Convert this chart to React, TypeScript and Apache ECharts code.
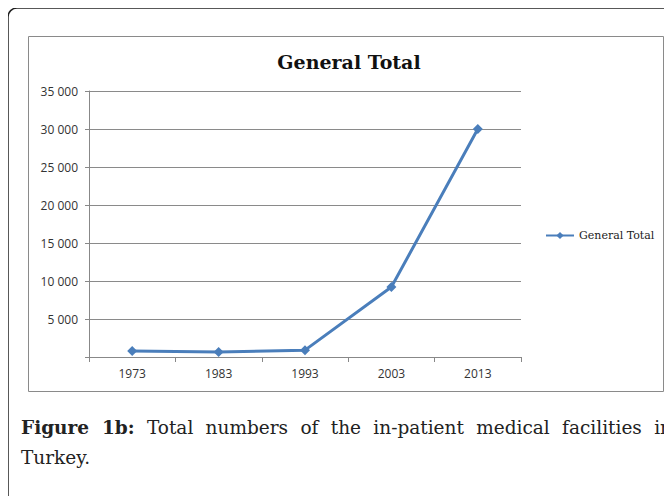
import React, { useEffect, useRef } from "react";
import * as echarts from "echarts";

const years = ["1973", "1983", "1993", "2003", "2013"];
const totals = [800, 650, 900, 9200, 30000];
const yTicks = [0, 5000, 10000, 15000, 20000, 25000, 30000, 35000];
const chartTitle = "General Total";
const seriesName = "General Total";

export default function App() {
  const ref = useRef<HTMLDivElement>(null);
  useEffect(() => {
    if (!ref.current) return;
    const chart = echarts.init(ref.current, undefined, { renderer: "svg" });
    chart.setOption({
      animation: false,
      backgroundColor: "#fff",
      title: {
        text: chartTitle,
        left: 344,
        textAlign: "center",
        top: 47,
        textStyle: { fontFamily: "DejaVu Serif", fontWeight: "bold", fontSize: 19, color: "#111" },
      },
      legend: {
        left: 540,
        top: 225,
        itemWidth: 28,
        itemHeight: 9,
        itemGap: 2,
        textStyle: { fontFamily: "DejaVu Serif", fontSize: 11, color: "#222" },
        data: [seriesName],
      },
      graphic: [
        {
          type: "rect",
          shape: { x: 8, y: 8, width: 700, height: 520, r: 9 },
          style: { fill: "none", stroke: "#222", lineWidth: 1.5 },
          silent: true,
        },
        {
          type: "rect",
          shape: { x: 28.5, y: 36.5, width: 635, height: 355 },
          style: { fill: "none", stroke: "#8a8a8a", lineWidth: 1 },
          silent: true,
        },
      ],
      grid: { left: 89, right: 151, top: 91, bottom: 147 },
      xAxis: {
        type: "category",
        data: years,
        boundaryGap: true,
        axisLine: { lineStyle: { color: "#888" } },
        axisTick: { show: true, length: 5, interval: 0, lineStyle: { color: "#888" } },
        axisLabel: { fontFamily: "Open Sans", fontSize: 12, color: "#333", margin: 10 },
      },
      yAxis: {
        type: "value",
        min: yTicks[0],
        max: yTicks[yTicks.length - 1],
        interval: 5000,
        axisLine: { show: true, lineStyle: { color: "#888" } },
        axisTick: { show: true, length: 4, lineStyle: { color: "#888" } },
        splitLine: { lineStyle: { color: "#8a8a8a", width: 1 } },
        axisLabel: {
          fontFamily: "Open Sans",
          fontSize: 12,
          color: "#333",
          margin: 11,
          formatter: (v: number) => (v === 0 ? "" : String(v).replace(/\B(?=(\d{3})+(?!\d))/g, " ")),
        },
      },
      series: [
        {
          name: seriesName,
          type: "line",
          data: totals,
          symbol: "diamond",
          symbolSize: 10,
          lineStyle: { color: "#4a7ebb", width: 3 },
          itemStyle: { color: "#4a7ebb" },
        },
      ],
    });
    return () => chart.dispose();
  }, []);
  const cap = {
    position: "absolute" as const,
    left: 21,
    width: 651,
    fontFamily: "DejaVu Serif",
    fontSize: 18.5,
    lineHeight: "30px",
    color: "#222",
    whiteSpace: "nowrap" as const,
  };
  return (
    <div style={{ position: "relative", width: 672, height: 504, margin: -8, overflow: "hidden", background: "#fff" }}>
      <div ref={ref} style={{ position: "absolute", left: 0, top: 0, width: 672, height: 504 }} />
      <div style={{ ...cap, top: 413, textAlign: "justify", textAlignLast: "justify" }}>
        <b>Figure 1b:</b> Total numbers of the in-patient medical facilities in
      </div>
      <div style={{ ...cap, top: 443 }}>Turkey.</div>
    </div>
  );
}
